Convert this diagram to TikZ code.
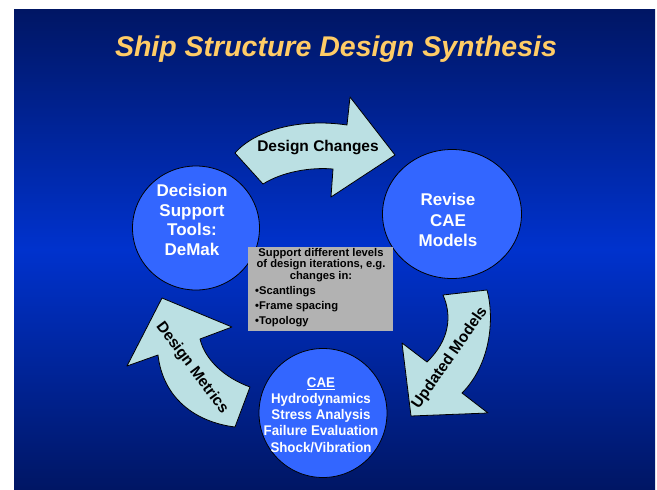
\documentclass[tikz,border=0pt]{standalone}
\usepackage{fontspec}
\setmainfont{Liberation Sans}
\usetikzlibrary{shapes.geometric}

\definecolor{SlideDark}{RGB}{0,22,100}
\definecolor{SlideMid}{RGB}{0,50,205}
\definecolor{StageBlue}{RGB}{51,102,255}
\definecolor{ArrowCyan}{RGB}{187,224,227}
\definecolor{TitleGold}{RGB}{255,204,102}
\definecolor{NoteGray}{RGB}{178,178,178}

\tikzset{
  stage/.style={ellipse,draw=black,line width=0.8pt,fill=StageBlue,inner sep=0pt},
  stage text/.style={text=white,align=center,inner sep=0pt,font=\bfseries\fontsize{17}{20}\selectfont},
  bent arrow/.style={draw=black,line width=0.8pt,fill=ArrowCyan,line join=round},
  arrow label/.style={text=black,inner sep=0pt,font=\bfseries\fontsize{15.5}{18}\selectfont},
  slide title/.style={text=TitleGold,inner sep=0pt,font=\bfseries\itshape\fontsize{28.5}{34}\selectfont}
}

\begin{document}
\begin{tikzpicture}[x=1pt,y=-1pt]
\useasboundingbox (0,0) rectangle (657,490);
\shade[top color=SlideDark,bottom color=SlideDark,middle color=SlideMid] (14,9) rectangle (655,490);

\node[slide title] (title) at (336,49) {Ship Structure Design Synthesis};

% the three stages
\node[stage,minimum width=127pt,minimum height=124pt] (demak) at (196,228) {};
\node[stage,minimum width=139pt,minimum height=129pt] (revise) at (452,214) {};
\node[stage,minimum width=128pt,minimum height=129pt] (cae) at (323,413) {};

\node[stage text,font=\bfseries\fontsize{17}{19.7}\selectfont] (demak text) at (192,220) {Decision\\Support\\Tools:\\DeMak};
\node[stage text,font=\bfseries\fontsize{17}{20.8}\selectfont] (revise text) at (448,220) {Revise\\CAE\\Models};
\node[stage text,font=\bfseries\fontsize{14}{16.2}\selectfont,xscale=0.95] (cae text) at (321,415)
  {\underline{CAE}\\Hydrodynamics\\Stress Analysis\\Failure Evaluation\\Shock/Vibration};

% curved arrows between stages
\draw[bent arrow] (235,153) .. controls (255,130) and (300,118) .. (347,125) -- (350,97) -- (395,155)
  -- (331,197) -- (333,169) .. controls (310,167) and (282,172) .. (263,184) -- cycle;
\draw[bent arrow] (443,295) -- (487,290) .. controls (495,320) and (490,365) .. (462,393) -- (488,413)
  -- (411,416) -- (402,343) -- (427,362) .. controls (450,340) and (452,315) .. (443,295) -- cycle;
\draw[bent arrow] (162,298) -- (232,327) -- (200,339) .. controls (205,360) and (225,378) .. (250,387)
  -- (235,427) .. controls (195,422) and (163,398) .. (158,355) -- (127,366) -- cycle;

\node[arrow label] (changes) at (318,148) {Design Changes};
\node[arrow label,rotate=55] (updated) at (450,358) {Updated Models};
\node[arrow label,rotate=-53.4] (metrics) at (192,368) {Design Metrics};

% note in the middle
\node[fill=NoteGray,minimum width=145pt,minimum height=84pt,inner sep=0pt] (note) at (320.5,289) {};
\node[align=center,inner sep=0pt,font=\bfseries\fontsize{11.2}{9.8}\selectfont] (note head) at (321,265)
  {Support different levels\\of design iterations, e.g.\\changes in:};
\node[align=left,anchor=west,inner sep=0pt,font=\bfseries\fontsize{11.2}{15}\selectfont] (note list) at (255,307)
  {•Scantlings\\•Frame spacing\\•Topology};
\end{tikzpicture}
\end{document}
